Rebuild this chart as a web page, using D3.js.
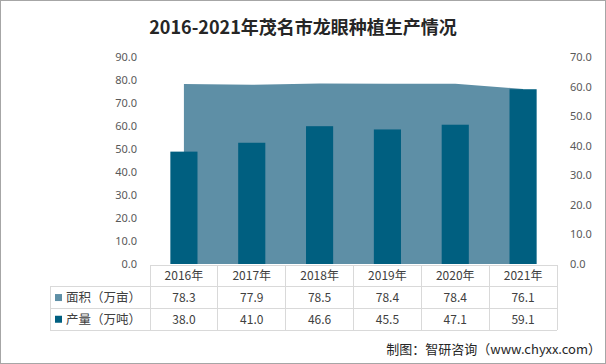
<!DOCTYPE html>
<html>
<head>
<meta charset="utf-8">
<script src="https://cdn.jsdelivr.net/npm/d3@7/dist/d3.min.js"></script>
<style>
  html, body { margin: 0; padding: 0; background: #fff; }
  svg { display: block; font-family: "Noto Sans CJK SC", "Noto Sans", sans-serif; }
</style>
</head>
<body>
<svg id="chart" width="606" height="364"></svg>
<script>
const title = "2016-2021年茂名市龙眼种植生产情况";
const categories = ["2016年", "2017年", "2018年", "2019年", "2020年", "2021年"];
const areaName = "面积（万亩）";
const areaValues = [78.3, 77.9, 78.5, 78.4, 78.4, 76.1];
const outputName = "产量（万吨）";
const outputValues = [38.0, 41.0, 46.6, 45.5, 47.1, 59.1];
const leftTicks = [0, 10, 20, 30, 40, 50, 60, 70, 80, 90];
const rightTicks = [0, 10, 20, 30, 40, 50, 60, 70];
const source = "制图：智研咨询（www.chyxx.com）";

const areaColor = "#5e8fa6";
const barColor = "#005f80";
const gridColor = "#d9d9d9";

const svg = d3.select("#chart");

// outer border
svg.append("rect").attr("x", 0.5).attr("y", 0.5).attr("width", 605).attr("height", 363)
  .attr("fill", "#fff").attr("stroke", "#a6a6a6");

const plot = { left: 150, right: 557, top: 57, bottom: 264 };

const x = d3.scaleBand().domain(categories).range([plot.left, plot.right]).padding(0);
const bw = x.bandwidth();
const yL = d3.scaleLinear().domain([0, 90]).range([plot.bottom, plot.top]);
const yR = d3.scaleLinear().domain([0, 70]).range([plot.bottom, plot.top]);

// area series
const areaGen = d3.area()
  .x((d, i) => x(categories[i]) + bw / 2)
  .y0(yL(0))
  .y1(d => yL(d));
svg.append("path").datum(areaValues).attr("d", areaGen).attr("fill", areaColor);

// bars
svg.append("g").selectAll("rect").data(outputValues).join("rect")
  .attr("x", (d, i) => x(categories[i]) + bw * 0.3)
  .attr("width", bw * 0.4)
  .attr("y", d => yR(d))
  .attr("height", d => yR(0) - yR(d))
  .attr("fill", barColor);

// left axis
const leftAxis = d3.axisLeft(yL).tickValues(leftTicks).tickFormat(d3.format(".1f")).tickSize(0).tickPadding(0);
const gl = svg.append("g").attr("transform", "translate(137,0)").call(leftAxis);
gl.select(".domain").remove();
gl.selectAll("text").attr("font-size", 11).attr("fill", "#595959").attr("font-family", "'Noto Sans', sans-serif");

// right axis
const rightAxis = d3.axisRight(yR).tickValues(rightTicks).tickFormat(d3.format(".1f")).tickSize(0).tickPadding(0);
const gr = svg.append("g").attr("transform", "translate(570,0)").call(rightAxis);
gr.select(".domain").remove();
gr.selectAll("text").attr("font-size", 11).attr("fill", "#595959").attr("font-family", "'Noto Sans', sans-serif");

// data table
const rowTop = 265, rowH = 21.7;
const tableLeft = 50;
const tg = svg.append("g");
const lineStyle = s => s.attr("stroke", gridColor).attr("stroke-width", 1).attr("shape-rendering", "crispEdges");

tg.append("line").attr("x1", plot.left).attr("x2", plot.right).attr("y1", rowTop).attr("y2", rowTop).call(lineStyle);
[1, 2, 3].forEach(r => {
  tg.append("line").attr("x1", tableLeft).attr("x2", plot.right)
    .attr("y1", rowTop + r * rowH).attr("y2", rowTop + r * rowH).call(lineStyle);
});
tg.append("line").attr("x1", tableLeft).attr("x2", tableLeft)
  .attr("y1", rowTop + rowH).attr("y2", rowTop + 3 * rowH).call(lineStyle);
categories.forEach(c => {
  tg.append("line").attr("x1", x(c)).attr("x2", x(c)).attr("y1", rowTop).attr("y2", rowTop + 3 * rowH).call(lineStyle);
});
tg.append("line").attr("x1", plot.right).attr("x2", plot.right).attr("y1", rowTop).attr("y2", rowTop + 3 * rowH).call(lineStyle);

const textY = r => rowTop + r * rowH + rowH / 2 + 4.5;
tg.selectAll("text.hdr").data(categories).join("text").attr("class", "hdr")
  .attr("x", d => x(d) + bw / 2).attr("y", textY(0)).attr("text-anchor", "middle")
  .attr("font-size", 12).attr("fill", "#404040").text(d => d);

const rows = [
  { name: areaName, values: areaValues, color: areaColor },
  { name: outputName, values: outputValues, color: barColor }
];
rows.forEach((row, ri) => {
  const r = ri + 1;
  tg.append("rect").attr("x", 55).attr("y", rowTop + r * rowH + rowH / 2 - 3.5)
    .attr("width", 7).attr("height", 7).attr("fill", row.color);
  tg.append("text").attr("x", 66).attr("y", textY(r)).attr("font-size", 12.5).attr("fill", "#404040").text(row.name);
  tg.selectAll("text.v" + r).data(row.values).join("text").attr("class", "v" + r)
    .attr("x", (d, i) => x(categories[i]) + bw / 2).attr("y", textY(r)).attr("text-anchor", "middle")
    .attr("font-size", 12).attr("fill", "#404040").text(d => d3.format(".1f")(d));
});

// title
svg.append("text").attr("x", 303).attr("y", 34).attr("text-anchor", "middle")
  .attr("font-size", 18).attr("font-weight", "bold").attr("fill", "#262626").text(title);

// source
svg.append("text").attr("x", 601).attr("y", 354).attr("text-anchor", "end")
  .attr("font-size", 13).attr("fill", "#262626").text(source);
</script>
</body>
</html>
